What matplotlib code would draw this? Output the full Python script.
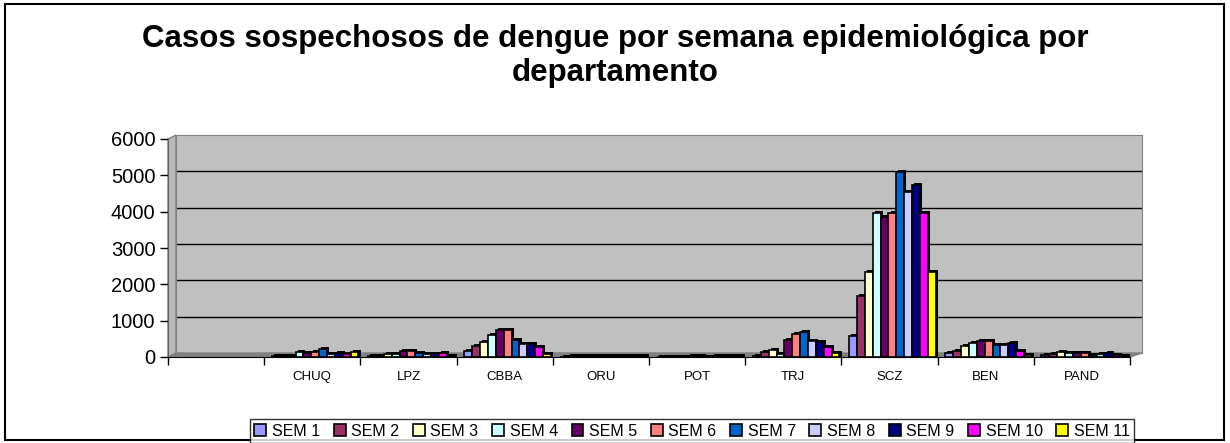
"""
Casos sospechosos de dengue por semana epidemiológica y departamento.
Barras agrupadas estilo Excel 3D (pared gris, piso y sombra negra en cada barra).
"""
import numpy as np
import matplotlib; matplotlib.use("Agg"); import matplotlib.pyplot as plt
from matplotlib.patches import Polygon, Rectangle

plt.rcParams['font.family'] = ['Liberation Sans', 'DejaVu Sans']

W, H = 1230, 443
CATS = ["", "CHUQ", "LPZ", "CBBA", "ORU", "POT", "TRJ", "SCZ", "BEN", "PAND"]
SERIES = [f"SEM {i}" for i in range(1, 12)]
COLORS = ["#9999FF", "#993366", "#FFFFCC", "#CCFFFF", "#660066", "#FF8080",
          "#0066CC", "#CCCCFF", "#000080", "#FF00FF", "#FFFF00"]

# casos por semana (SEM 1..11)
EMPTY = [np.nan] * 11
CHUQ = [20, 30, 40, 130, 110, 130, 210, 80, 120, 80, 130]
LPZ  = [20, 40, 70, 70, 160, 160, 120, 80, 70, 120, 40]
CBBA = [160, 310, 400, 600, 730, 730, 460, 370, 370, 270, 90]
ORU  = [10, 20, 20, 30, 30, 40, 30, 20, 30, 20, 30]
POT  = [10, 10, 10, 10, 20, 20, 10, 20, 30, 30, 20]
TRJ  = [40, 130, 200, 90, 460, 620, 690, 450, 400, 280, 100]
SCZ  = [580, 1690, 2350, 3950, 3840, 3950, 5080, 4530, 4730, 3950, 2350]
BEN  = [110, 160, 300, 380, 430, 430, 340, 340, 380, 160, 60]
PAND = [50, 80, 150, 110, 100, 110, 60, 70, 110, 60, 30]
DATA = np.array([EMPTY, CHUQ, LPZ, CBBA, ORU, POT, TRJ, SCZ, BEN, PAND], float)

def fx(px): return px / W
def fy(py): return 1 - py / H

fig = plt.figure(figsize=(W / 100, H / 100), dpi=100)

# pared del fondo (desplazada para dar profundidad)
bg = fig.add_axes([fx(176), fy(353), (1142 - 176) / W, (353 - 135) / H])
bg.set_facecolor("#C0C0C0"); bg.set_ylim(0, 6000); bg.set_xlim(0, 1)
bg.set_xticks([]); bg.set_yticks(range(1000, 6000, 1000)); bg.tick_params(left=False, labelleft=False)
bg.yaxis.grid(True, color="black", lw=1)
for s in bg.spines.values(): s.set_color("#808080")
bg.set_zorder(-3)

# piso y pared lateral
floor = Polygon([(fx(168), fy(357)), (fx(1130), fy(357)), (fx(1142), fy(353)), (fx(176), fy(353))],
                closed=True, transform=fig.transFigure, fc="#808080", ec="#808080", zorder=-2)
side = Polygon([(fx(168), fy(357)), (fx(176), fy(353)), (fx(176), fy(135)), (fx(168), fy(139))],
               closed=True, transform=fig.transFigure, fc="#B8B8B8", ec="#808080", lw=1, zorder=-2)
fig.patches.extend([floor, side])

ax = fig.add_axes([fx(168), fy(357), (1130 - 168) / W, (357 - 139) / H])
ax.patch.set_visible(False)
ax.set_xlim(-0.5, len(CATS) - 0.5); ax.set_ylim(0, 6000)

x = np.arange(len(CATS))
bw = 0.9 / len(SERIES)
dx, dy = 0.022, 55  # sombra 3D
for k, (name, col) in enumerate(zip(SERIES, COLORS)):
    pos = x - 0.45 + bw * (k + 0.5) + 0.03
    vals = DATA[:, k]
    ax.bar(pos + dx, vals + dy, bw, color="black", zorder=2)
    ax.bar(pos, vals, bw, color=col, edgecolor="black", lw=1.2, zorder=3, label=name)

ax.set_yticks(range(0, 7000, 1000))
ax.tick_params(axis="y", length=6, width=1, labelsize=14.5, pad=3)
ax.set_xticks(x); ax.set_xticklabels(CATS, fontsize=9.5)
ax.set_xticks(np.arange(-0.5, len(CATS)), minor=True)
ax.tick_params(axis="x", which="major", length=0, pad=10)
ax.tick_params(axis="x", which="minor", length=6, width=1)
ax.spines["top"].set_visible(False); ax.spines["right"].set_visible(False)
ax.spines["left"].set_color("#606060")
ax.spines["bottom"].set_color("black")

fig.text(0.5, fy(56), "Casos sospechosos de dengue por semana epidemiológica por\ndepartamento",
         ha="center", va="center", fontsize=22.5, fontweight="bold", linespacing=1.15)

h, l = ax.get_legend_handles_labels()
leg = fig.legend(h, l, loc="center", bbox_to_anchor=(fx(692), fy(431)), ncol=11, fontsize=11.5,
                 frameon=True, fancybox=False, edgecolor="black", handlelength=0.75, handleheight=0.75,
                 handletextpad=0.35, columnspacing=0.85, borderpad=0.3)
leg.get_frame().set_linewidth(1)

fig.patches.append(Rectangle((fx(5), fy(440)), fx(1224) - fx(5), fy(4) - fy(440), fill=False,
                             ec="black", lw=1.5, transform=fig.transFigure, zorder=5))

fig.savefig("out.png", dpi=100)
plt.close(fig)
